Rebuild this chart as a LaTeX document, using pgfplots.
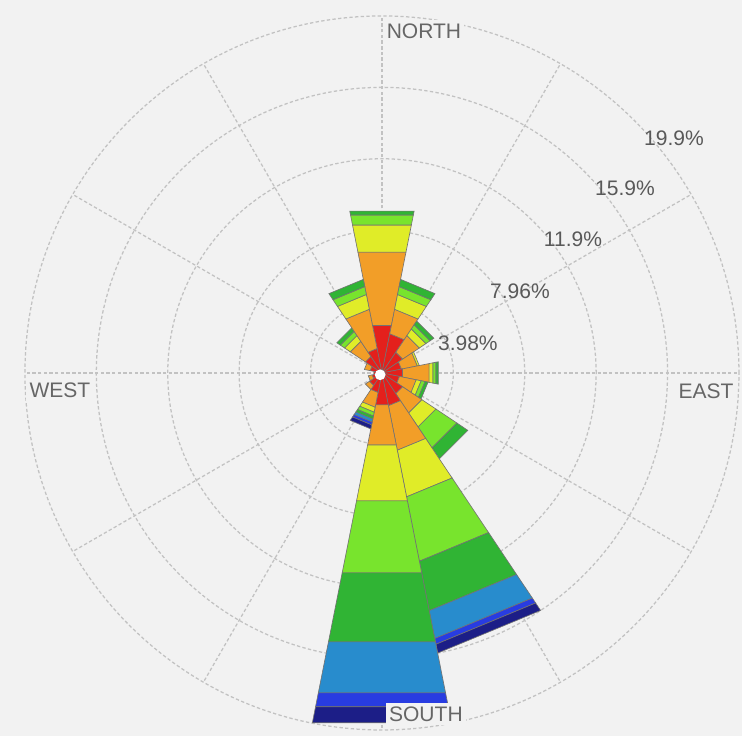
\documentclass[border=0pt]{standalone}
\usepackage{pgfplots}
\usepackage{pgfplotstable}
\pgfplotsset{compat=1.18}
\usepackage{fontspec}
\setmainfont{Liberation Sans}

\definecolor{bin1}{RGB}{228,32,28}
\definecolor{bin2}{RGB}{242,158,40}
\definecolor{bin3}{RGB}{224,236,40}
\definecolor{bin4}{RGB}{120,228,45}
\definecolor{bin5}{RGB}{48,180,52}
\definecolor{bin6}{RGB}{40,140,205}
\definecolor{bin7}{RGB}{40,60,225}
\definecolor{bin8}{RGB}{28,30,135}
\definecolor{bg}{RGB}{242,242,242}

\tikzset{
  gridl/.style={black!24, line width=0.6pt, dash pattern=on 1.6pt off 1.1pt},
  lbl/.style={font=\fontsize{10}{12}\selectfont, text=black!60, inner sep=0pt},
}

% cumulative radius (%) at the outer edge of each speed bin, per compass direction
\pgfplotstableread{
dir   r1   r2   r3   r4    r5    r6    r7    r8
0     2.70 6.87 8.41 8.98  9.20  9.20  9.20  9.20
22.5  2.23 3.62 4.46 4.91  5.32  5.32  5.32  5.32
45    1.39 2.51 2.95 3.23  3.48  3.48  3.48  3.48
67.5  1.11 2.01 2.12 2.12  2.12  2.12  2.12  2.12
90    1.17 2.68 2.90 3.07  3.20  3.20  3.20  3.20
112.5 1.00 1.95 2.23 2.45  2.62  2.62  2.62  2.62
135   1.39 2.68 3.62 5.02  5.76  5.76  5.76  5.76
157.5 1.86 4.39 7.04 10.70 13.51 15.09 15.42 15.92
180   1.81 4.09 7.27 11.36 15.28 18.18 18.97 19.88
202.5 1.11 1.95 2.23 2.45  2.62  2.79  2.95  3.18
225   0.84 1.11 1.11 1.11  1.11  1.11  1.11  1.11
247.5 0.56 0.78 0.78 0.78  0.78  0.78  0.78  0.78
270   0.45 0.45 0.45 0.45  0.45  0.45  0.45  0.45
292.5 0.67 1.00 1.00 1.00  1.00  1.00  1.00  1.00
315   1.11 2.12 2.51 2.79  3.03  3.03  3.03  3.03
337.5 1.39 3.62 4.46 4.91  5.32  5.32  5.32  5.32
}\windtable

\begin{document}
\begin{tikzpicture}
\begin{axis}[
  scale only axis,
  width=12.408cm, height=12.306cm,
  xmin=-21.29, xmax=20.07, ymin=-20.23, ymax=20.79,
  axis line style={draw=none},
  ticks=none,
  axis background/.style={fill=bg},
]
% grid circles
\draw[gridl] (axis cs:0,0) circle[radius=3.98];
\draw[gridl] (axis cs:0,0) circle[radius=7.96];
\draw[gridl] (axis cs:0,0) circle[radius=11.94];
\draw[gridl] (axis cs:0,0) circle[radius=15.92];
\draw[gridl] (axis cs:0,0) circle[radius=19.9];
% spokes
\pgfplotsinvokeforeach{0,30,60,90,120,150,180,210,240,270,300,330}{
  \draw[gridl] (axis cs:0,0) -- (axis cs:{19.9*cos(#1)},{19.9*sin(#1)});
}
% wind rose bars
\pgfplotsforeachungrouped \i in {0,...,15}{%
  \pgfplotstablegetelem{\i}{dir}\of\windtable
  \let\d\pgfplotsretval
  \pgfmathsetmacro\aA{90-\d-11.25}%
  \pgfmathsetmacro\aB{90-\d+11.25}%
  \def\rprev{0}%
  \pgfplotsforeachungrouped \j in {1,...,8}{%
    \pgfplotstablegetelem{\i}{r\j}\of\windtable
    \let\rcur\pgfplotsretval
    \pgfmathtruncatemacro\ok{\rcur>\rprev+0.001}%
    \ifnum\ok=1
      \edef\tmp{\noexpand\addplot[fill=bin\j, draw=black!55, line width=0.3pt, data cs=polar] coordinates {(\aA,\rprev) (\aB,\rprev) (\aB,\rcur) (\aA,\rcur)} -- cycle;}%
      \tmp
    \fi
    \let\rprev\rcur
  }%
}
\fill[white] (axis cs:-0.1,-0.1) circle[radius=0.3];
% labels
\node[lbl,fill=bg,inner sep=1.5pt] at (axis cs:2.34,19.06) {NORTH};
\node[lbl,fill=bg,inner sep=1.5pt] at (axis cs:2.45,-19.01) {SOUTH};
\node[lbl,fill=bg,inner sep=1.5pt] at (axis cs:-17.95,-0.95) {WEST};
\node[lbl,fill=bg,inner sep=1.5pt] at (axis cs:18.06,-1.00) {EAST};
\node[lbl,text=black!65] at (axis cs:4.79,1.67) {3.98\%};
\node[lbl,text=black!65] at (axis cs:7.69,4.57) {7.96\%};
\node[lbl,text=black!65] at (axis cs:10.65,7.47) {11.9\%};
\node[lbl,text=black!65] at (axis cs:13.55,10.31) {15.9\%};
\node[lbl,text=black!65] at (axis cs:16.28,13.10) {19.9\%};
\end{axis}
\end{tikzpicture}
\end{document}
